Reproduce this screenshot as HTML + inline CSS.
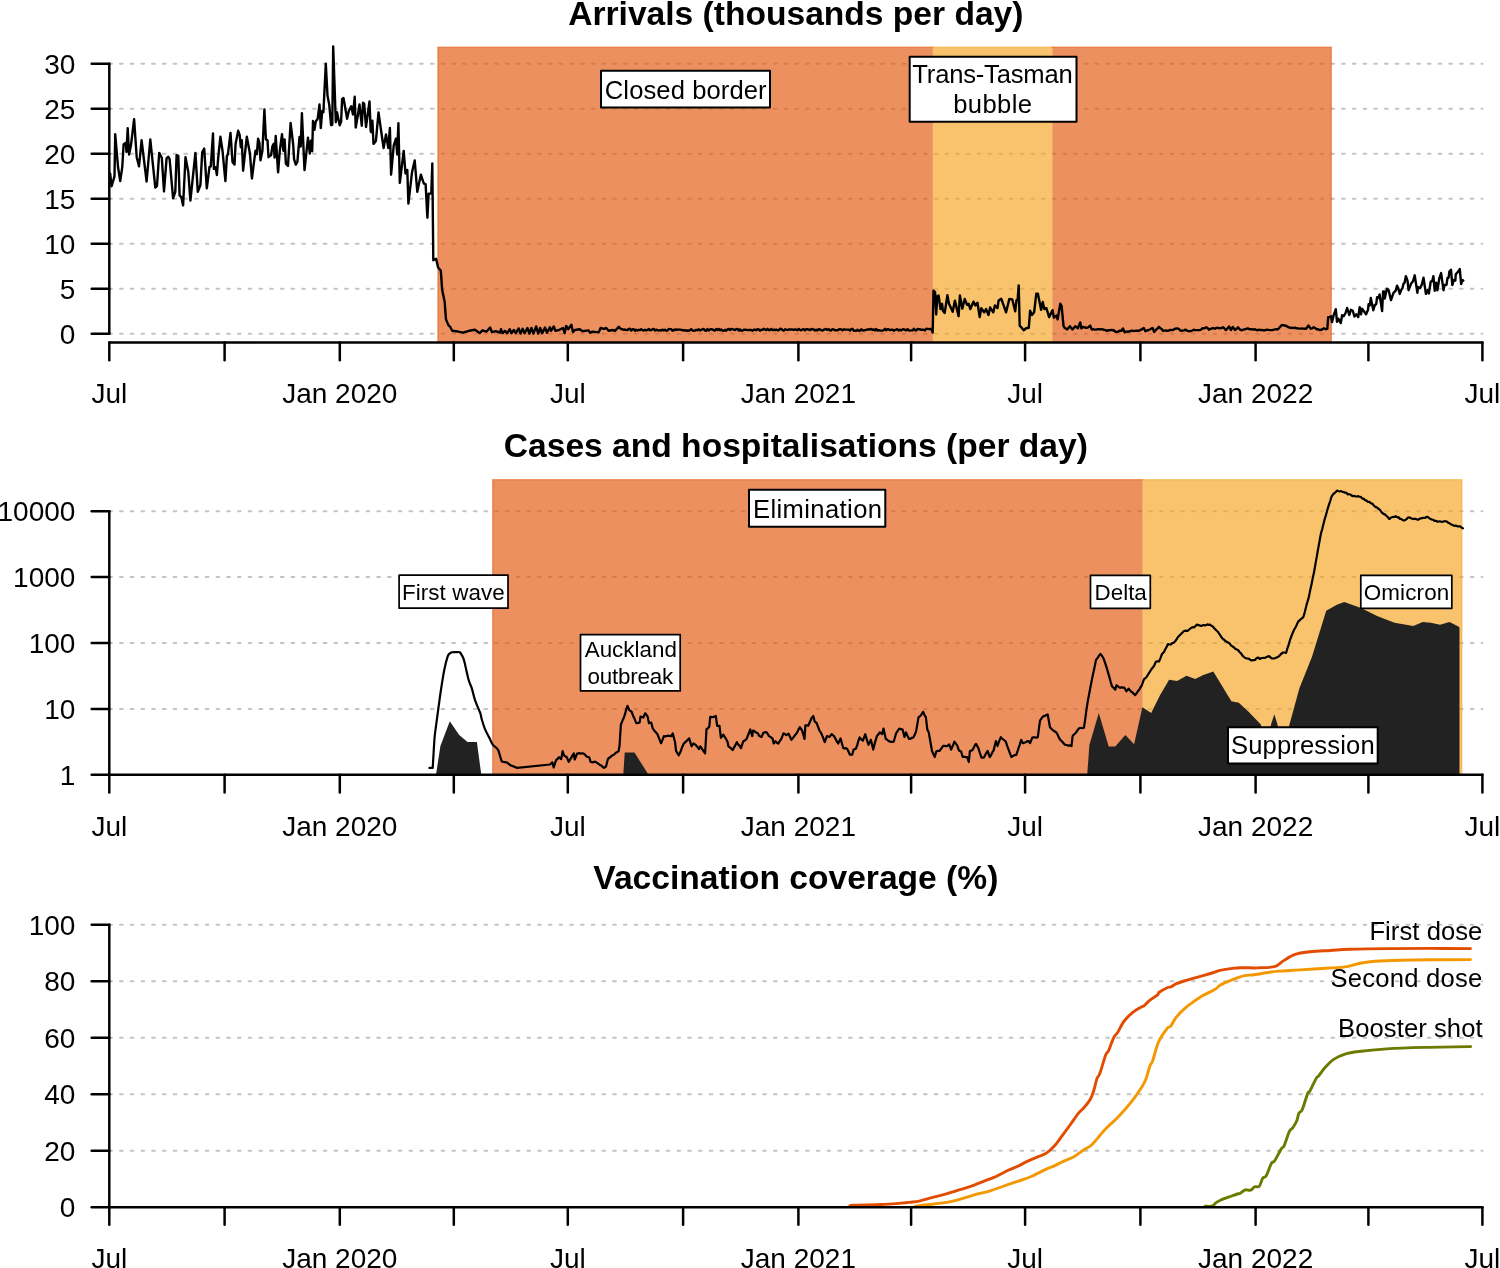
<!DOCTYPE html><html><head><meta charset="utf-8"><style>html,body{margin:0;padding:0;background:#fff;}svg{display:block;will-change:transform}</style></head><body>
<svg width="1500" height="1268" viewBox="0 0 1500 1268">
<rect width="1500" height="1268" fill="#fff"/>
<g stroke="#c4c4c4" stroke-width="2" stroke-dasharray="2.68 8.04" stroke-linecap="round" fill="none">
<line x1="109.3" y1="333.7" x2="1482.4" y2="333.7"/>
<line x1="109.3" y1="288.7" x2="1482.4" y2="288.7"/>
<line x1="109.3" y1="243.7" x2="1482.4" y2="243.7"/>
<line x1="109.3" y1="198.7" x2="1482.4" y2="198.7"/>
<line x1="109.3" y1="153.7" x2="1482.4" y2="153.7"/>
<line x1="109.3" y1="108.7" x2="1482.4" y2="108.7"/>
<line x1="109.3" y1="63.7" x2="1482.4" y2="63.7"/>
<line x1="109.3" y1="708.9" x2="1482.4" y2="708.9"/>
<line x1="109.3" y1="643" x2="1482.4" y2="643"/>
<line x1="109.3" y1="577.1" x2="1482.4" y2="577.1"/>
<line x1="109.3" y1="511.2" x2="1482.4" y2="511.2"/>
<line x1="109.3" y1="1150.7" x2="1482.4" y2="1150.7"/>
<line x1="109.3" y1="1094.2" x2="1482.4" y2="1094.2"/>
<line x1="109.3" y1="1037.7" x2="1482.4" y2="1037.7"/>
<line x1="109.3" y1="981.2" x2="1482.4" y2="981.2"/>
<line x1="109.3" y1="924.7" x2="1482.4" y2="924.7"/>
</g>
<rect x="437.9" y="47.1" width="495" height="295.5" fill="rgb(226,84,10)" fill-opacity="0.65"/>
<path d="M437.9,342.6 L437.9,47.1 L932.9,47.1" fill="none" stroke="rgb(226,84,10)" stroke-opacity="0.5" stroke-width="1.4" stroke-linecap="square" stroke-linejoin="miter"/>
<rect x="932.9" y="47.1" width="119.4" height="295.5" fill="rgb(244,163,29)" fill-opacity="0.65"/>
<path d="M932.9,47.1 L1052.3,47.1" fill="none" stroke="rgb(244,163,29)" stroke-opacity="0.5" stroke-width="1.4" stroke-linecap="square" stroke-linejoin="miter"/>
<rect x="1052.3" y="47.1" width="279" height="295.5" fill="rgb(226,84,10)" fill-opacity="0.65"/>
<path d="M1052.3,47.1 L1331.3,47.1 L1331.3,342.6" fill="none" stroke="rgb(226,84,10)" stroke-opacity="0.5" stroke-width="1.4" stroke-linecap="square" stroke-linejoin="miter"/>
<rect x="492.7" y="479.6" width="650" height="295.2" fill="rgb(226,84,10)" fill-opacity="0.65"/>
<path d="M492.7,774.8 L492.7,479.6 L1142.7,479.6" fill="none" stroke="rgb(226,84,10)" stroke-opacity="0.5" stroke-width="1.4" stroke-linecap="square" stroke-linejoin="miter"/>
<rect x="1142.7" y="479.6" width="319.2" height="295.2" fill="rgb(244,163,29)" fill-opacity="0.65"/>
<path d="M1142.7,479.6 L1461.9,479.6 L1461.9,774.8" fill="none" stroke="rgb(244,163,29)" stroke-opacity="0.5" stroke-width="1.4" stroke-linecap="square" stroke-linejoin="miter"/>
<polyline fill="none" stroke="#000" stroke-width="2.4" stroke-linejoin="round" stroke-linecap="round" points="110.2,173.7 111.5,186.3 114.5,176.3 115.2,134.3 118,166.8 120.2,181.1 122.3,166.8 123.6,144.2 125.8,142.9 126.5,152 127.7,128.2 129.1,154.6 131,145.1 134.1,119.1 136.7,157.2 139,166.3 141.6,140.3 146.6,181.5 150.3,139.5 155.3,187.6 157,185.9 159.2,152.9 161.8,157.7 164,191.5 166.6,158.1 168.3,156.8 169.6,159 173.1,198.4 175.3,191.9 176.6,155.1 178.3,155.9 179.6,195.4 181.3,197.1 183.1,205.4 185.5,157.2 188.3,172 190.4,200.6 195.4,152.9 197.8,191.9 200.4,185 202.2,152.4 204.2,148.5 206.8,188.4 209.5,166.8 210.8,166.3 213,133.4 213.9,168.9 215.6,167.2 216.9,175 218.2,157.6 220.4,136.8 222.5,150.7 225.4,181.1 226.9,155.9 227.9,154.6 230.5,132.9 232.5,162 234.5,164.6 235.6,143.8 238.2,130.8 239.7,135.1 240.8,147.2 241.8,140.3 243.1,170.7 246.8,136.8 249.9,153.3 251.9,178.5 255.5,150.7 256.8,154.2 258.1,138.6 259.4,142.9 260.5,160.3 262.4,150.7 264.4,109.5 265.9,139.4 267.5,140.3 268.5,157.2 271.1,155 272.4,146.4 273.7,143.8 274.6,157.6 275.7,136 278.1,172.4 279.8,150.7 282,134.2 283.3,150.7 284.6,139.4 285.9,163.7 288,165.9 290.6,123 293.2,144.6 294.1,159.4 295.8,164.6 297.4,161.8 299.5,137 300.7,146.5 301.9,113.3 304.5,170.1 308,137.6 309.8,153.6 311,140.6 312.2,151.2 313,121 314.5,129.9 315.7,121.6 317.7,118.7 319.5,104.5 320.8,128.1 322.2,111 323.4,112.2 325.8,63.7 327.5,95.6 329.3,105.1 331.1,125.2 332.3,124.6 333.2,46.5 335.8,122.2 337,112.2 339.7,125.2 341.1,121.6 342.1,99.2 343.5,98 347.1,118.7 348.8,111 351.2,106.2 353,114.5 354.7,96.8 355.7,127.5 357.7,116.3 359.5,104.5 361.8,125.8 363,102.7 364.2,103.9 366,127 369.5,101.5 370.7,131.1 371.2,132.1 372.4,120.8 373.5,143.9 375.9,140.9 378.5,112.5 383.6,148 386,134.4 388.3,148 389.9,127.9 391.1,174.6 393.7,145.7 396,138.6 397.2,154.5 398.4,123.2 399.8,182.9 403.7,151 405.5,173.5 407.3,169.9 408.4,203.6 412,172.3 414.7,160.4 417.3,191.8 420.9,174.6 423.8,183.5 425.6,184.1 427.4,217.8 428.6,193.6 431.3,193.6 432.3,163.4 433.3,260.2 436.1,258.8 438,267.3 440.8,270.7 442.2,290.1 444.6,301.4 446,319.4 448.4,325.1 450.3,327 452.2,330.8 456,331.2 462.6,332.7 469.2,330.8 474.9,329.8 479.6,333.1 482.5,330.3 486.3,331.7 490.1,327.5 492,332.2 495.7,331.2 500,332.7 501,329.2 502.6,333.2 505,330.8 507,333.2 509.8,329.2 511.4,333.2 513.8,330 515.8,333.2 518.6,328.4 520.6,333.6 522.6,328.8 524.6,333.2 527.4,328 529.4,333.6 531.4,328 533.4,333.6 536.2,326.4 538.2,333.6 540.2,328 542.2,333.2 545,327.6 547,332.8 549.8,327.2 551,330.8 553.8,326.4 555.4,330.8 559,330 563,328 564.6,333.2 566.2,326 568.2,329.2 571.4,324.8 573,332 575,330 579.8,329.2 582.2,331.2 588.6,330.4 590.2,332.8 592.6,331.6 598.6,332.4 600.6,328 603.8,328.8 606.2,328 608.6,330.8 612.6,330 615,330.8 618.8,326.8 621,329 622.5,329.3 623.8,329.9 625,329.5 626.2,330 627.5,330.1 628.8,328.9 630,328.8 631.2,330.5 632.5,329.3 633.8,329.3 635,330.8 636.2,329.7 637.5,330.5 638.8,329.8 640,330.1 641.2,329.1 642.5,330.1 643.8,330.5 645,329.8 646.2,330.3 647.5,330.1 648.8,328.9 650,330.3 651.2,330 652.5,329.4 653.8,328.9 655,330.5 656.2,329.7 657.5,330.2 658.8,330.6 660,330.2 661.2,330.6 662.5,329.6 663.8,330.4 665,329.7 666.2,330.7 667.5,330.6 668.8,329 670,329.1 671.2,329.2 672.5,330.7 673.8,329.7 675,330.1 676.2,329.4 677.5,329.8 678.8,329.6 680,329.5 681.2,330 682.5,330 683.8,330.6 685,330.2 686.2,330.7 687.5,330.5 688.8,330.8 690,330.1 691.2,329.1 692.5,330.5 693.8,330.7 695,330.6 696.2,329.9 697.5,330.2 698.8,329.2 700,330.5 701.2,329.9 702.5,329.4 703.8,328.9 705,330.5 706.2,330.8 707.5,329 708.8,330.4 710,329.6 711.2,329.1 712.5,329.4 713.8,330.3 715,330.5 716.2,328.9 717.5,330 718.8,328.9 720,330.2 721.2,329.5 722.5,330.6 723.8,330.8 725,329.8 726.2,330.8 727.5,329.4 728.8,329 730,330 731.2,328.9 732.5,329.2 733.8,329.6 735,330 736.2,329.1 737.5,328.9 738.8,330.5 740,329.4 741.2,330.7 742.5,330.6 743.8,329.6 745,329.7 746.2,329.8 747.5,330.1 748.8,330 750,329.9 751.2,330 752.5,330.7 753.8,329.8 755,329.7 756.2,330.2 757.5,329.3 758.8,329.4 760,330.8 761.2,329.8 762.5,329.9 763.8,328.8 765,329.6 766.2,330 767.5,328.8 768.8,330 770,330.1 771.2,328.9 772.5,330.1 773.8,329.7 775,330.2 776.2,329.5 777.5,330.2 778.8,330.3 780,328.8 781.2,328.9 782.5,330.2 783.8,330.7 785,329.3 786.2,329.7 787.5,330 788.8,329.4 790,329.5 791.2,329.4 792.5,329.5 793.8,330 795,329.4 796.2,329.6 797.5,330.3 798.8,328.9 800,329.9 801.2,330.3 802.5,329.4 803.8,329.2 805,330.4 806.2,329.3 807.5,329.2 808.8,329.7 810,330.2 811.2,329 812.5,329.4 813.8,329.5 815,330.5 816.2,329.7 817.5,330.5 818.8,329.1 820,329.5 821.2,330.1 822.5,330.6 823.8,329.7 825,329.3 826.2,329 827.5,329.9 828.8,329.2 830,330.4 831.2,330.5 832.5,329.2 833.8,329.4 835,330.4 836.2,330.1 837.5,330.4 838.8,329.5 840,329.1 841.2,329.4 842.5,330.4 843.8,329.3 845,329.5 846.2,329.6 847.5,329.6 848.8,329.6 850,330.6 851.2,329.1 852.5,328.8 853.8,330.7 855,330.6 856.2,330.8 857.5,329.7 858.8,330.7 860,330.7 861.2,329.2 862.5,330.3 863.8,330.5 865,330.1 866.2,329.8 867.5,329.4 868.8,329.5 870,329.3 871.2,328.9 872.5,330 873.8,329.4 875,330.4 876.2,328.9 877.5,330.6 878.8,330.2 880,330.6 881.2,330.6 882.5,330.6 883.8,330 885,328.8 886.2,330.3 887.5,329.1 888.8,329.4 890,330.1 891.2,329.8 892.5,329.6 893.8,330.7 895,330 896.2,329.5 897.5,329.3 898.8,330.5 900,329.8 901.2,330.4 902.5,329.5 903.8,329.2 905,329.9 906.2,330.4 907.5,329.1 908.8,330.4 910,330.6 911.2,330.4 912.5,330.4 913.8,328.8 915,330.1 916.2,330.5 917.5,328.9 918.8,329.3 920,329.3 921.2,329.9 922.5,329.6 923.8,329.7 925,330.4 926.2,328.8 927.5,328.9 928.8,329.1 930,329 931.2,328.9 932.7,332.6 933.5,290.5 935.1,292.1 936.2,314.5 937.3,296.3 938.6,295.5 940.5,309.1 942.1,303.8 942.9,310.7 944.7,312.9 947.4,295.3 949,303.8 952.7,311.8 954.9,300.6 958.6,316.1 959.9,295.5 962.3,308.6 964.7,299 967.1,304.9 968.7,303.8 970.3,309.1 973.5,301.7 975.4,305.4 977.5,302.7 979.7,317.1 981.3,308.3 984.2,312.3 986.1,309.1 988.5,315 990.1,307.5 993.3,312.3 994.9,305.4 997.5,308.1 998.6,300.6 1001.3,298.8 1006.1,312.3 1009.3,299 1012.3,299.5 1015.2,311.3 1016.5,300.1 1017.6,300.6 1018.7,285.4 1019.7,325.7 1021.3,327.3 1023.7,330.2 1026.1,328.3 1028.8,327.8 1030.1,310.7 1032,315 1034.1,312.3 1036.3,293.7 1037.9,293.7 1041.1,309.7 1042.7,301.9 1044.3,309.1 1046.4,308.1 1049.1,317.1 1052.5,310.2 1053.9,317.7 1056.5,315.5 1057.6,319.3 1060.3,303.8 1061.6,305.9 1063.5,325.7 1064.5,327.8 1067.2,329.4 1069.9,326.2 1072.5,329.4 1075.2,326.2 1077.9,328.3 1080.2,322.4 1081.4,328.4 1083,326.8 1084.6,327.5 1086.2,327.7 1087.8,327.6 1090.2,325.6 1091.8,329.6 1093.1,329.2 1094.5,329.6 1095.8,329.6 1097.1,329.3 1098.4,329.3 1099.6,329.2 1100.9,329.4 1102.2,329.2 1103.8,329.8 1105.4,330.1 1107,330.8 1108.3,330.3 1109.6,330.3 1110.8,329.9 1112.1,330.2 1113.4,330 1115.8,332 1117.2,331.9 1118.6,331.3 1120,330.7 1121.4,330.8 1123,328.4 1124.6,332.4 1125.9,331.8 1127.2,331.6 1128.4,331.5 1129.7,331.4 1131,330.8 1132.3,330.7 1133.7,331.1 1135,330.9 1136.3,330.7 1137.7,330.7 1139,330.8 1140.6,329.9 1142.2,329.1 1143.8,328 1145.4,331.2 1147,330.5 1148.6,330 1149.9,329.5 1151.3,328.6 1152.6,328 1154.2,332 1155.8,330 1157.4,328.6 1159,326.8 1160.3,328.3 1161.7,329 1163,330.8 1164.3,330.6 1165.7,330.5 1167,330.8 1168.3,330.7 1169.7,330 1171,330 1172.3,330.1 1173.6,329.7 1174.8,328.8 1176.1,328.7 1177.4,328.4 1178.7,328.8 1180.1,330.3 1181.4,330.8 1182.7,330.6 1184.1,330.4 1185.4,329.6 1187,330.7 1188.6,331.2 1189.9,331.1 1191.2,331 1192.4,330.5 1193.7,329.8 1195,330 1199.7,330.1 1201,329.7 1202.3,328.5 1203.6,328.1 1204.9,328.2 1206.2,327.3 1207.6,328 1209,329.7 1210.6,328.8 1212.1,328.3 1213.7,328.3 1215.1,328.7 1216.5,327.9 1217.9,327.8 1219.3,328.3 1221.1,328.1 1223,327.3 1224.4,328.4 1225.8,330.1 1227.4,328.6 1229.1,326.4 1230.9,330.1 1232.8,326.9 1235.1,330.1 1236.5,328.9 1238,327.3 1239.4,329.1 1240.8,330.1 1242.2,330.2 1243.6,329.5 1245,329.4 1246.4,328.7 1247.9,328.4 1249.5,329.3 1251,329.2 1252.4,329.3 1253.7,329.7 1255,329.2 1256.4,330 1257.7,330.3 1259,329.6 1260.4,330.1 1261.7,330 1263,330.2 1264.4,330.5 1265.7,329.9 1267,329.8 1268.4,329.9 1269.7,330.1 1271.1,330.1 1272.5,330.1 1273.9,329.6 1275.3,329.4 1276.7,329.3 1278.1,329.2 1280,327 1281.8,325 1283.2,325.2 1284.6,325.5 1286.5,326 1288.4,327.3 1289.7,327.5 1291,328.1 1292.4,327.7 1293.7,328.1 1295,327.7 1296.4,328.3 1297.7,328.3 1299.1,328.6 1300.5,328.6 1301.9,328.5 1303.3,328.6 1304.7,328.8 1306.1,328.7 1308.4,325.5 1310.8,328.7 1312.2,328.4 1313.6,327.3 1315,327.9 1316.4,329.2 1318.2,329.3 1320.1,330.1 1322,329.5 1323.9,328.3 1325.7,329.2 1327.3,328.8 1328.2,317.1 1330.1,317.1 1331,316.2 1332,322.1 1333.6,315.5 1335.8,309.2 1337,321.8 1338.3,318.7 1340.8,323.1 1342.1,315.2 1343.7,316.2 1345.6,313 1347.1,308 1349.3,314.9 1350.9,309.8 1352.8,310.8 1354.4,316.5 1356.3,314.3 1358.2,317.1 1359.7,307.3 1361,314.3 1362,308.6 1366.1,314.3 1368,309.8 1368.6,304.2 1369.8,305.4 1370.8,297.9 1373.3,310.2 1374.9,304.8 1376.2,304.2 1377.1,297.2 1378.7,297.9 1379.6,294.4 1382.1,311.1 1383.1,291.5 1384,291.5 1384.7,298.5 1386.9,288.7 1388.5,289.7 1391,300.1 1393.5,292.8 1395.7,290.6 1397.1,285.7 1398.2,288.1 1399.8,293.9 1401.1,290.2 1402.5,288.1 1403.5,283.8 1404.6,282.7 1405.9,276.1 1407.5,280.6 1408.6,290.2 1411,283.8 1413.1,281.1 1414.7,275.3 1417.4,292.9 1417.9,287 1420.1,288.1 1421.7,284.9 1423.5,277.7 1425.9,293.9 1427.5,290.2 1428.9,293.4 1430.7,281.7 1432.3,281.1 1433.4,276.1 1434.7,290.7 1436.1,282.7 1437.4,290.2 1439.3,278.5 1441.1,273.1 1443.5,290.2 1444.6,284.9 1446.5,284.9 1447.5,277.9 1448.6,277.9 1449.4,271.5 1451,269.7 1452.3,285.1 1453.7,280.1 1455.3,280.6 1455.8,274.2 1457.7,272.1 1459.8,269.1 1461.1,284.1 1462.7,280.1 1463.3,280.6"/>
<polygon fill="#222" stroke="none" points="436,774.8 440.4,746 449.8,721.2 459.2,735 467.5,742.1 476.9,742.1 481.3,774.8"/>
<polygon fill="#222" stroke="none" points="623.3,774.8 624.7,752.5 634.5,752.5 648.5,774.8"/>
<polygon fill="#222" stroke="none" points="1087.2,774.8 1089.4,744.9 1098.8,712.9 1108.7,746.5 1115.3,746.5 1125.3,735 1134.1,744.3 1142.4,707.3 1151.2,712.9 1160,695.2 1169.1,679.7 1177.1,681.1 1186.5,675.7 1195.2,679 1203.3,675 1213.3,671.4 1231.4,701.2 1238.8,702.8 1248.8,711.9 1260.9,724.6 1264,740 1268,740 1271,724.6 1274.3,714.3 1277.5,724.6 1280,740 1287,740 1289.2,725.4 1299.4,688.3 1312,656.8 1326.2,610.7 1336.9,604.7 1344.3,602 1361,608 1377.1,616.1 1394.5,622.8 1413.3,626.1 1422.7,622.1 1430.7,622.8 1440.1,624.8 1449.5,622.1 1458.9,626.8 1459.5,627.6 1459.5,774.8"/>
<path fill="none" stroke="#000" stroke-width="2.2" stroke-linejoin="round" stroke-linecap="round" d="M429.4,767.9 L432.7,767.9 L434.4,739.4 C435,731.7 435.5,730 436.6,721.7 C437.7,713.4 439.7,698.4 441,689.7 C442.3,681.1 443.2,675.3 444.3,669.8 C445.4,664.3 446.7,659.3 447.6,656.6 C448.5,653.9 448.9,654.3 449.6,653.6 C450.3,652.9 450.9,652.5 452,652.3 C453.1,652 454.7,652.1 456,652.1 C457.3,652.1 458.7,651.7 459.7,652.3 C460.7,652.9 461.2,654.1 462,655.6 C462.8,657.1 463.1,657 464.2,661 C465.3,665 467.3,675.1 468.6,679.7 C469.9,684.3 470.8,685.1 471.9,688.6 C473,692.1 473.8,696.7 475.2,700.7 C476.6,704.8 479.1,709.8 480.2,712.9 C481.3,716 481,716.8 481.8,719.5 C482.6,722.2 483.8,726.3 485.1,729.4 C486.4,732.5 488.3,735.7 489.6,738.3 C490.9,740.9 491.4,742.9 492.9,744.9 C494.4,746.9 496.9,747.6 498.4,750.4 L501.7,761.5 L507.2,762.6 L510.5,765.3 L517.2,767.9 L550,764.5 L552.3,762.3 L553.7,767.5 L556.1,760 L557.5,759 L558.9,757.2 L561.2,759.1 L562.6,751.1 L564,755.3 L565.4,756.3 L566.8,757.2 L568.7,761.9 L570,759.7 L571.2,757.9 L572.5,755.3 L573.8,753.5 L574.7,759.5 L577.1,753.5 L578.4,753.3 L579.7,753.2 L581,753.6 L582.3,753.3 L583.6,753.5 L585.2,754.9 L586.9,756.7 L589.2,757.2 L590.6,761.9 L591.9,762.1 L593.2,762.3 L594.4,761.7 L595.7,761.9 L597.1,763 L598.5,763.7 L599.9,765 L601.3,765.6 L602.7,766.8 L604.1,767.9 L606,766.5 L607.9,759.1 L609.2,757.9 L610.6,756.8 L611.9,755.7 L613.2,755.1 L614.6,754 L615.9,752.8 L617.3,752 L618.6,751.1 L619.5,746 L620.9,724.5 L622.3,721.1 L623.7,718 L625,714.2 L626.2,709.6 L627.5,705.9 L629.3,710.1 L631.7,711.9 L633.2,716.1 L634.8,719.3 L636.3,723.1 L638,723 L639.6,722.7 L640.5,716.6 L641.9,717 L643.3,717.5 L645.2,713.3 L647.5,716.1 L648.9,723.1 L651.3,722.7 L652.7,728.3 L654.2,730.5 L655.8,732.3 L657.3,733.9 L658.6,737.1 L659.8,740.1 L661.1,743.2 L662.5,739.9 L663.9,736.2 L665.8,736.3 L667.6,735.7 L669.5,735.9 L671.3,736.2 L672.7,733.4 L675.1,742.3 L676,750.7 L677.4,753.2 L678.8,755.3 L680.4,752 L681.9,747.8 L683.5,744.1 L685.4,742 L687.2,740.4 L689.2,738.4 L691.5,746.3 L693.4,743.5 L695.7,744.9 L697.4,746.8 L699,749.1 L700.4,746.3 L702,748.8 L703.5,751.1 L705.1,753.3 L706.5,729.1 L707.9,728.3 L709.3,726.7 L710.2,716.9 L712,717.2 L713.9,716.9 L715.8,716 L717.2,725.8 L719.5,725.8 L720.9,737.9 L723.3,734.7 L724.7,736.8 L726.1,739.1 L727.5,741.7 L728.4,746.3 L729.8,747.3 L731.2,748.6 L732.6,750.1 L734,747.6 L735.4,745.1 L736.8,742.1 L738.2,744.5 L739.6,745.9 L741,748.2 L743.3,741.2 L745,740.4 L746.6,738.9 L748.5,734 L750.3,729.5 L752.2,736.1 L753.1,730.5 L754.7,731.4 L756.2,732.6 L757.8,733.3 L759.2,736.1 L761.5,737 L763.4,732.8 L765,732.2 L766.7,732.3 L769,736.1 L770.9,737.1 L772.7,738.9 L773.7,743.5 L775.5,741.2 L776.9,742.7 L778.3,743.5 L779.7,741.2 L781.1,739.3 L783.5,733.3 L784.9,734.1 L786.3,735.1 L788.6,733.7 L790,736.8 L791.4,739.8 L793.2,737.6 L795.1,735.1 L797,732.8 L798.4,729.6 L799.8,727.2 L802.1,730.5 L804.5,738.9 L805.4,725.3 L806.8,725.4 L808.2,725.8 L809.9,722 L811.5,718.3 L813.3,716 L814.7,721.6 L816.6,723 L818,726.7 L819.4,730.5 L821.3,733.3 L823,737.4 L824.7,742.1 L827,736.1 L829.3,737 L831.7,734.2 L834,736.1 L835.4,738.6 L836.8,741.4 L838.2,743.5 L840.5,738.4 L841.9,743.2 L843.3,748.2 L844.6,748.4 L845.8,748.2 L847.1,748.7 L848.5,751.5 L849.9,754.7 L852.2,754.7 L853.6,749.6 L855.9,748.7 L857.2,745.1 L858.4,740.9 L859.7,737.5 L861.3,739.4 L862.9,740.7 L865.3,734.2 L866.9,739.9 L868.5,744.9 L870.9,739.8 L873.2,749.6 L875,742.5 L876.9,736.1 L878.3,734.6 L879.7,732.3 L882.1,734.2 L883.5,728.6 L885.8,738.9 L887.2,739.7 L888.6,741 L890,741.7 L891.9,741.9 L893.7,741.7 L896.1,733.3 L897.7,730.8 L899.3,728.6 L901,729.2 L902.6,729.5 L904.5,737 L905.9,732.3 L907.5,735.7 L909.1,738.9 L910.5,738.7 L911.9,737.8 L913.3,737.5 L914.7,734.7 L916.1,731.4 L918.5,717.4 L920.8,715.5 L923.1,711.8 L924.5,715 L925.9,717.4 L927.3,729.5 L928.7,732.3 L930.4,741.8 L932,751 L933.4,754.1 L934.8,757.1 L936.2,751.5 L937.9,750.9 L939.5,751 L941.4,748.4 L943.2,745.9 L944.6,745.8 L946,746.1 L947.4,745.9 L949.3,744.5 L951.1,749.6 L952.8,745.8 L954.4,741.7 L955.8,743.6 L957.2,745.4 L958.9,750.4 L961.1,751.5 L962.7,757 L964.2,756.7 L965.6,757.1 L967.1,757 L968.8,762 L969.9,751 L972.1,750.4 L973.4,748.3 L974.7,745.7 L976,743.8 L978.2,747.7 L979.9,753 L981.5,757.6 L983.7,757.6 L985,755.5 L986.3,752.9 L987.6,751 L989.8,757 L991.1,755.2 L992.3,752.3 L993.6,750.4 L995.9,741 L997.5,746 L999.1,741.4 L1000.8,737.2 L1002,738.5 L1003.3,739.5 L1004.5,740.5 L1005.8,741.6 L1007.1,745.6 L1008.5,749.3 L1009.9,753.1 L1011.3,757 L1012.5,756.3 L1013.8,755.6 L1015,755 L1016.3,754.8 L1017.9,750 L1019.6,745.1 L1021.2,739.9 L1022.9,743.2 L1024.3,742.7 L1025.7,742.3 L1027,741.4 L1028.4,741 L1030.1,743.2 L1032.3,737.7 L1033.7,737.4 L1035,737.3 L1036.4,737.7 L1037.8,737.2 L1040,720.6 L1042.2,717.3 L1043.6,716.2 L1045,715.9 L1046.3,715 L1047.7,714.5 L1050,727.2 L1051.7,729.1 L1053.3,730.5 L1054.9,731.5 L1056.6,732.7 L1058.2,735.9 L1059.9,739.4 L1061.3,740.7 L1062.7,742.2 L1064,743.8 L1065.4,744.9 L1066.9,745 L1068.5,745.8 L1070,745.4 L1071.5,746 L1072.6,736.1 L1074.2,734.2 L1075.9,732.7 L1077.6,730.1 L1079.2,728.3 L1080.8,727.8 L1082.3,728.2 L1083.9,727.8 L1085.2,719.3 L1086.4,710.2 L1087.7,701.8 L1089.2,693.8 L1090.6,686.3 L1092.1,678.6 L1093.4,672.6 L1094.7,666.4 L1096,659.9 L1097.5,658.1 L1098.9,655.9 L1100.4,653.8 L1102.1,656 L1103.7,658.8 L1105,662.7 L1106.3,666.6 L1107.6,670.9 L1109.1,676.1 L1110.5,681.3 L1112,686.4 L1113.7,687.8 L1115.3,689.7 L1116.4,685.3 L1117.8,686.2 L1119.2,687.5 L1120.5,687.8 L1121.7,687.1 L1123,687.8 L1124.2,687.5 L1126.4,691.3 L1128.6,688.6 L1129.9,690.3 L1131.2,691.6 L1132.6,692.5 L1133.9,693.9 L1135.2,695.2 L1136.5,693.3 L1137.8,691.4 L1139.2,689.7 L1140.5,687.4 L1141.8,685.3 L1144,679.2 L1146.2,677.5 L1151.8,668.7 L1154,666 L1156,661.5 L1157.5,661.3 L1159,661.5 L1160.5,658.1 L1162,654 L1164,652 L1165.3,649.3 L1166.7,646.8 L1168,644 L1169.5,644.5 L1171,644.5 L1172.3,643 L1173.7,642.8 L1175,641.5 L1176.5,639.4 L1178,637 L1179.5,635.5 L1181,634 L1182.5,632.5 L1184,631 L1185.8,630.7 L1187.5,631 L1189.2,629.5 L1191,628 L1192.5,627.2 L1194,627.5 L1195.5,626 L1197,624.5 L1198.3,625.2 L1199.7,625.4 L1201,626 L1202.2,625.6 L1203.5,625 L1204.8,625.4 L1206.1,625.2 L1207.4,624.3 L1208.7,624.9 L1210,624.5 L1211.3,625.8 L1212.7,626.3 L1214,628 L1215.2,629.2 L1216.5,630.5 L1217.8,631.7 L1219,633.5 L1220.3,635.4 L1221.7,637.6 L1223,639 L1224.2,639.7 L1225.5,641.2 L1226.8,641.8 L1228,642.5 L1229.5,643.3 L1231,645.4 L1232.5,646.4 L1234,647.5 L1235.3,648.8 L1236.7,649.4 L1238,650 L1239.5,652 L1241,653.3 L1242.5,655.6 L1244,657 L1245.3,658 L1246.7,658.4 L1248,658.5 L1249.3,659.1 L1250.7,660.1 L1252,660.5 L1253.5,660.2 L1255,660 L1256.5,658.3 L1258,657.5 L1260,659 L1261.2,658.2 L1262.5,658 L1263.8,657.9 L1265,658 L1266.3,657 L1267.7,656.7 L1269,656 L1270.5,657.5 L1272,658.5 L1274,658.5 L1275.3,658 L1276.7,657.4 L1278,657 L1279.5,655.7 L1281,654 L1283,652.5 L1284.5,652.5 L1286,653 C1286.5,652.3 1286.9,650 1287.3,648.6 C1287.8,647.2 1288.2,646.1 1288.7,644.6 C1289.1,643.2 1289.6,641.3 1290,640 C1290.4,638.7 1290.9,637.7 1291.3,636.6 C1291.8,635.4 1292.2,634.1 1292.7,633 C1293.1,631.9 1293.6,630.9 1294,630 C1294.4,629.1 1294.9,628.6 1295.3,627.8 C1295.8,626.9 1296.2,625.9 1296.7,624.9 C1297.1,623.9 1297.6,622.7 1298,622 C1298.4,621.3 1298.9,621 1299.3,620.6 C1299.8,620.1 1300.2,619.7 1300.7,619.3 C1301.2,618.9 1301.6,618.5 1302.1,618.1 C1302.5,617.7 1303,617.8 1303.4,616.8 C1303.9,615.8 1304.3,613.7 1304.8,612 C1305.2,610.4 1305.6,608.5 1306.1,606.7 C1306.5,605 1307,603.2 1307.5,601.6 C1307.9,600.1 1308.4,599.1 1308.8,597.3 C1309.2,595.5 1309.7,592.7 1310.1,590.6 C1310.6,588.6 1311,587 1311.4,584.9 C1311.9,582.8 1312.3,580 1312.8,577.9 C1313.2,575.7 1313.7,574.2 1314.1,571.9 C1314.5,569.6 1315,566.9 1315.4,564.3 C1315.9,561.8 1316.3,559.1 1316.8,556.5 C1317.2,554 1317.7,551.5 1318.1,549 C1318.6,546.5 1319,543.9 1319.5,541.5 C1319.9,539 1320.4,536.3 1320.8,534.3 C1321.2,532.3 1321.7,530.9 1322.2,529.2 C1322.6,527.4 1323,525.6 1323.5,523.9 C1324,522.1 1324.4,520.3 1324.8,518.7 C1325.3,517.1 1325.8,515.7 1326.2,514.2 C1326.6,512.7 1327.1,510.9 1327.5,509.4 C1328,507.9 1328.4,506.5 1328.8,505.1 C1329.3,503.8 1329.7,502.5 1330.2,501.1 C1330.6,499.8 1331.1,497.9 1331.5,496.8 C1331.9,495.7 1332.4,495.4 1332.8,494.8 C1333.3,494.2 1333.8,493.7 1334.2,493.3 C1334.7,492.8 1335.1,492.7 1335.6,492.2 C1336,491.8 1336.5,491 1336.9,490.8 C1337.3,490.6 1337.8,490.8 1338.2,491 C1338.7,491.1 1339.1,491.5 1339.6,491.5 C1340,491.6 1340.5,491.1 1340.9,491.1 C1341.4,491.1 1341.8,491.6 1342.3,491.7 C1342.7,491.9 1343.2,492 1343.6,492.1 C1344,492.2 1344.5,492.5 1344.9,492.6 C1345.4,492.7 1345.8,492.4 1346.3,492.7 C1346.7,493 1347.2,494.1 1347.6,494.3 C1348.1,494.6 1348.5,494 1349,494.1 C1349.4,494.1 1349.9,494.3 1350.3,494.5 C1350.8,494.7 1351.2,495.2 1351.7,495.5 C1352.1,495.8 1352.6,496 1353,496.1 C1353.4,496.2 1353.9,495.8 1354.3,495.9 C1354.8,495.9 1355.2,496.4 1355.7,496.5 C1356.1,496.6 1356.6,496.4 1357,496.4 C1357.5,496.3 1357.9,496.2 1358.4,496.2 C1358.8,496.3 1359.3,496.7 1359.7,496.8 C1360.1,496.9 1360.6,496.8 1361,497.1 C1361.5,497.3 1361.9,498.3 1362.4,498.6 C1362.8,498.8 1363.3,498.5 1363.7,498.8 C1364.2,499.1 1364.6,499.8 1365.1,500.1 C1365.5,500.4 1365.9,500.2 1366.4,500.5 C1366.8,500.8 1367.3,501.6 1367.7,501.8 C1368.2,502 1368.6,501.7 1369.1,501.8 C1369.5,502 1370,502.5 1370.4,502.8 C1370.8,503.1 1371.3,503.2 1371.8,503.5 C1372.2,503.8 1372.7,504.1 1373.1,504.6 C1373.6,505 1374,505.8 1374.5,506.2 C1374.9,506.6 1375.3,506.8 1375.8,507 C1376.2,507.3 1376.7,507.4 1377.2,507.7 C1377.6,508 1378.1,508.6 1378.5,508.9 C1378.9,509.2 1379.4,509.3 1379.8,509.7 C1380.3,510.2 1380.7,511 1381.2,511.6 C1381.6,512.2 1382.1,512.8 1382.5,513.2 C1383,513.6 1383.4,513.8 1383.8,514 C1384.3,514.2 1384.7,514.3 1385.2,514.6 C1385.6,514.9 1386.1,515.5 1386.5,515.9 C1387,516.3 1387.4,516.7 1387.9,517.2 C1388.3,517.7 1388.8,518.8 1389.2,518.9 C1389.6,519 1390.1,518.3 1390.5,518 C1391,517.7 1391.4,517.5 1391.9,517.3 C1392.3,517.1 1392.8,516.9 1393.2,516.8 C1393.7,516.7 1394.1,517 1394.6,516.9 C1395,516.8 1395.5,516.1 1395.9,516.2 C1396.3,516.3 1396.8,517.2 1397.2,517.3 C1397.7,517.5 1398.1,517 1398.6,517.2 C1399,517.5 1399.5,518.5 1399.9,518.8 C1400.3,519 1400.8,518.7 1401.2,518.9 C1401.7,519.1 1402.1,519.7 1402.6,520 C1403,520.2 1403.5,520.3 1403.9,520.3 C1404.3,520.3 1404.8,520.1 1405.2,519.9 C1405.7,519.6 1406.1,519.4 1406.6,519 C1407,518.6 1407.5,517.9 1407.9,517.6 C1408.3,517.3 1408.8,517.3 1409.2,517.4 C1409.7,517.4 1410.1,517.8 1410.6,518 C1411,518.2 1411.5,518.4 1411.9,518.6 C1412.4,518.8 1412.8,519.2 1413.3,519.2 C1413.7,519.2 1414.2,518.6 1414.6,518.6 C1415.1,518.6 1415.5,518.9 1416,519.1 C1416.4,519.3 1416.9,519.5 1417.3,519.6 C1417.7,519.7 1418.2,519.8 1418.6,519.6 C1419.1,519.4 1419.5,518.6 1420,518.4 C1420.4,518.2 1420.9,518.4 1421.3,518.3 C1421.8,518.2 1422.2,518 1422.7,517.9 C1423.1,517.8 1423.6,517.9 1424,517.9 C1424.5,517.8 1424.9,517.9 1425.4,517.8 C1425.8,517.6 1426.3,517 1426.7,516.9 C1427.1,516.8 1427.6,516.9 1428,517.1 C1428.5,517.4 1428.9,518 1429.4,518.3 C1429.8,518.6 1430.3,518.7 1430.7,518.9 C1431.2,519.1 1431.6,519.5 1432.1,519.6 C1432.5,519.8 1432.9,519.7 1433.4,519.9 C1433.8,520.1 1434.3,520.7 1434.7,520.9 C1435.2,521.1 1435.6,520.7 1436.1,520.9 C1436.5,521 1437,521.5 1437.4,521.6 C1437.8,521.7 1438.3,521.6 1438.7,521.5 C1439.2,521.5 1439.6,521.2 1440.1,521.3 C1440.5,521.4 1441,521.9 1441.4,521.9 C1441.9,522 1442.3,521.7 1442.8,521.6 C1443.2,521.5 1443.7,521.4 1444.1,521.3 C1444.6,521.3 1445,521.2 1445.5,521.2 C1445.9,521.3 1446.4,521.4 1446.8,521.6 C1447.2,521.8 1447.7,522.4 1448.1,522.6 C1448.6,522.9 1449,523.1 1449.5,523.3 C1449.9,523.6 1450.4,524 1450.8,524.2 C1451.3,524.5 1451.7,524.4 1452.2,524.7 C1452.6,524.9 1453.1,525.4 1453.5,525.6 C1453.9,525.8 1454.4,525.8 1454.8,525.8 C1455.3,525.8 1455.8,525.5 1456.2,525.6 C1456.7,525.7 1457.1,526.2 1457.6,526.4 C1458,526.5 1458.5,526.3 1458.9,526.3 C1459.3,526.3 1459.8,526.2 1460.2,526.4 C1460.7,526.7 1461.1,527.3 1461.6,527.6 C1462,527.9 1462.7,528.2 1462.9,528.3"/>
<path fill="none" stroke="#e24c00" stroke-width="2.9" stroke-linejoin="round" stroke-linecap="round" d="M851,1206.3 C851.2,1206.1 847.3,1205.5 852.3,1205.2 C857.3,1204.9 872.8,1204.8 881,1204.5 C889.2,1204.2 896.5,1203.5 901.5,1203.1 C906.5,1202.7 908.1,1202.5 911.1,1202.2 C914.1,1201.9 916.3,1201.8 919.3,1201.1 C922.2,1200.4 924.9,1199.3 928.8,1198.3 C932.7,1197.3 937.9,1196.2 942.5,1194.9 C947.1,1193.7 951.7,1192.2 956.2,1190.8 C960.8,1189.4 965.2,1188.3 969.8,1186.7 C974.3,1185.1 979.4,1182.9 983.5,1181.3 C987.6,1179.7 990.3,1179 994.4,1177.2 C998.5,1175.4 1004.2,1172.1 1008.1,1170.3 C1012,1168.5 1014.5,1167.7 1017.7,1166.2 C1020.9,1164.7 1023.8,1163 1027.2,1161.4 C1030.6,1159.8 1035,1158.1 1038.2,1156.7 C1041.5,1155.3 1043.9,1154.8 1046.7,1152.9 C1049.5,1151 1052.1,1148.5 1054.8,1145.5 C1057.5,1142.5 1060.1,1138.4 1062.8,1134.8 C1065.5,1131.2 1068.1,1127.7 1070.8,1124 C1073.5,1120.3 1076.7,1115.4 1078.9,1112.6 C1081.2,1109.8 1082.4,1109.5 1084.3,1107.3 C1086.2,1105.1 1088.8,1101.9 1090.3,1099.2 C1091.8,1096.5 1092.5,1094.7 1093.6,1091.2 C1094.7,1087.7 1096,1081.3 1097,1078.4 C1098,1075.5 1098.2,1077.7 1099.7,1073.8 C1101.2,1069.9 1104.2,1058.8 1105.7,1055 C1107.2,1051.2 1107.1,1053.9 1108.4,1051 C1109.8,1048.1 1112.2,1040.6 1113.8,1037.5 C1115.4,1034.4 1116.1,1034.9 1117.8,1032.2 C1119.5,1029.5 1121.3,1024.8 1123.8,1021.5 C1126.2,1018.2 1129.8,1015 1132.5,1012.7 C1135.2,1010.4 1138,1008.9 1140,1007.7 C1142,1006.5 1142.7,1006.8 1144.3,1005.6 C1145.9,1004.4 1147.4,1002.1 1149.6,1000.3 C1151.8,998.5 1156,996.2 1157.6,994.9 C1159.2,993.6 1157.5,993.5 1159.2,992.3 C1160.9,991.1 1165.8,988.4 1167.7,987.5 C1169.7,986.6 1169.5,987.5 1170.9,986.9 C1172.3,986.3 1173.8,984.8 1176.3,983.7 C1178.8,982.6 1183.1,981.4 1185.9,980.5 C1188.7,979.6 1190.5,979.2 1193.3,978.4 C1196.1,977.6 1199.5,976.7 1202.9,975.7 C1206.3,974.7 1210.8,973.4 1213.6,972.5 C1216.4,971.6 1217.2,971 1220,970.4 C1222.8,969.8 1227.2,969 1230.7,968.6 C1234.2,968.2 1236.9,967.8 1241.3,967.7 C1245.7,967.6 1251.8,968.1 1257.3,967.9 C1262.8,967.7 1270.3,967.7 1274.4,966.7 C1278.5,965.7 1279.4,963.5 1281.9,961.9 C1284.4,960.3 1286.8,958.4 1289.3,957.1 C1291.8,955.8 1293.3,954.8 1296.8,953.9 C1300.2,953 1304.5,952.4 1310,951.8 C1315.5,951.2 1323.3,950.9 1330,950.5 C1336.7,950.1 1340,949.5 1350,949.2 C1360,948.9 1376.7,948.7 1390,948.6 C1403.3,948.5 1416.6,948.4 1430,948.4 C1443.4,948.4 1463.8,948.6 1470.5,948.6"/>
<path fill="none" stroke="#f39800" stroke-width="2.9" stroke-linejoin="round" stroke-linecap="round" d="M915,1206.3 C916.2,1206.1 918.5,1205.6 922,1205.2 C925.5,1204.8 931.2,1204.4 935.7,1203.8 C940.2,1203.2 944.8,1202.7 949.3,1201.8 C953.8,1200.9 958.4,1199.6 963,1198.3 C967.6,1197 972.2,1195.5 976.7,1194.2 C981.2,1193 985.8,1192.2 990.3,1190.8 C994.8,1189.4 999.4,1187.6 1004,1186 C1008.6,1184.4 1013.2,1182.9 1017.7,1181.3 C1022.2,1179.7 1026.7,1178.5 1031.3,1176.5 C1035.9,1174.5 1041.5,1171.4 1045.4,1169.6 C1049.3,1167.8 1051.9,1166.9 1054.8,1165.6 C1057.7,1164.3 1059.7,1163 1062.8,1161.6 C1065.9,1160.1 1069.9,1158.9 1073.5,1156.9 C1077.1,1154.9 1081.4,1151.4 1084.3,1149.5 C1087.2,1147.6 1088.8,1147.4 1091,1145.5 C1093.2,1143.6 1095.2,1140.9 1097.7,1138.1 C1100.2,1135.3 1102.6,1131.9 1105.7,1128.7 C1108.8,1125.5 1113.3,1121.8 1116.4,1118.7 C1119.5,1115.6 1121.6,1113.3 1124.5,1110 C1127.4,1106.7 1130.9,1102.6 1133.9,1098.6 C1136.9,1094.6 1140.6,1089 1142.6,1085.8 C1144.6,1082.5 1144.7,1082.4 1145.9,1079.1 C1147.1,1075.8 1148.9,1068.7 1150,1065.7 C1151.1,1062.7 1151.1,1065 1152.6,1061 C1154,1057 1156.2,1047.1 1158.7,1041.6 C1161.2,1036.1 1165.4,1030.8 1167.4,1028.2 C1169.4,1025.6 1169.2,1027.9 1170.7,1026.1 C1172.2,1024.3 1173.8,1020.4 1176.1,1017.4 C1178.4,1014.4 1181.9,1010.9 1184.8,1008.3 C1187.7,1005.7 1190.3,1004 1193.3,1001.9 C1196.3,999.8 1199.3,997.5 1202.9,995.5 C1206.5,993.5 1211.9,991.3 1214.7,989.6 C1217.5,987.9 1218.2,986.4 1220,985.3 C1221.8,984.1 1222.6,983.9 1225.3,982.7 C1228,981.6 1232.8,979.6 1236,978.4 C1239.2,977.2 1241.5,976.3 1244.5,975.7 C1247.5,975.1 1250.2,975.2 1254.1,974.7 C1258,974.2 1263.9,973.1 1268,972.5 C1272.1,971.9 1273.4,971.5 1278.7,971.1 C1284,970.7 1291.5,970.4 1300,969.9 C1308.5,969.4 1322.5,968.5 1330,968 C1337.5,967.5 1340,967.7 1345,966.9 C1350,966.1 1355,964.2 1360,963.3 C1365,962.4 1368.3,961.8 1375,961.3 C1381.7,960.8 1390.8,960.5 1400,960.3 C1409.2,960 1418.2,959.9 1430,959.8 C1441.8,959.7 1463.8,959.6 1470.5,959.6"/>
<path fill="none" stroke="#6c7a00" stroke-width="2.9" stroke-linejoin="round" stroke-linecap="round" d="M1205,1206.3 C1206.2,1206.2 1210.6,1206.6 1212.4,1206 C1214.2,1205.4 1214.4,1203.9 1215.7,1202.9 C1217,1201.9 1218.2,1201.2 1220.4,1200.2 C1222.6,1199.2 1226.3,1197.9 1229.1,1196.9 C1231.9,1195.9 1235.4,1194.6 1237.2,1194 C1239,1193.4 1238.6,1194.2 1239.9,1193.5 C1241.2,1192.8 1243.4,1190.5 1245.2,1189.9 C1247,1189.4 1249,1190.7 1250.6,1190.2 C1252.2,1189.7 1253.1,1187.5 1254.6,1186.8 C1256,1186.1 1257.9,1187.7 1259.3,1186.2 C1260.7,1184.8 1261.6,1179.8 1262.7,1178.1 C1263.8,1176.4 1264.5,1178.5 1266,1176.1 C1267.5,1173.6 1270,1166 1271.4,1163.4 C1272.9,1160.8 1273,1163.2 1274.7,1160.7 C1276.4,1158.2 1279.8,1151.1 1281.4,1148.6 C1283,1146.1 1282.8,1148.8 1284.1,1145.9 C1285.4,1143 1288,1134.2 1289.5,1131.2 C1291,1128.2 1291.6,1129.6 1292.8,1127.8 C1294,1126 1295.9,1123 1296.9,1120.5 C1297.9,1118 1298,1114.9 1298.9,1113.1 C1299.8,1111.3 1300.8,1113 1302.2,1109.7 C1303.7,1106.5 1306.4,1096.6 1307.6,1093.6 C1308.8,1090.6 1308.1,1094.2 1309.6,1091.6 C1311,1089 1314.7,1080.9 1316.3,1078.2 C1317.9,1075.5 1317.4,1077.4 1319,1075.5 C1320.6,1073.6 1323.2,1069.5 1325.7,1066.8 C1328.2,1064.1 1330.5,1061.5 1333.7,1059.4 C1336.9,1057.3 1340.8,1055.4 1345,1054.1 C1349.2,1052.8 1351.8,1052.4 1358.7,1051.5 C1365.7,1050.6 1375.8,1049.6 1386.7,1048.9 C1397.6,1048.2 1410,1047.8 1424,1047.4 C1438,1047 1462.9,1046.7 1470.7,1046.6"/>
<g stroke="#000" stroke-width="2.5" stroke-linecap="round" fill="none">
<line x1="109.3" y1="342.6" x2="1482.4" y2="342.6"/>
<line x1="109.3" y1="342.6" x2="109.3" y2="360.2"/>
<line x1="224.6" y1="342.6" x2="224.6" y2="360.2"/>
<line x1="339.8" y1="342.6" x2="339.8" y2="360.2"/>
<line x1="453.8" y1="342.6" x2="453.8" y2="360.2"/>
<line x1="567.8" y1="342.6" x2="567.8" y2="360.2"/>
<line x1="683.1" y1="342.6" x2="683.1" y2="360.2"/>
<line x1="798.4" y1="342.6" x2="798.4" y2="360.2"/>
<line x1="911.1" y1="342.6" x2="911.1" y2="360.2"/>
<line x1="1025.1" y1="342.6" x2="1025.1" y2="360.2"/>
<line x1="1140.4" y1="342.6" x2="1140.4" y2="360.2"/>
<line x1="1255.6" y1="342.6" x2="1255.6" y2="360.2"/>
<line x1="1368.4" y1="342.6" x2="1368.4" y2="360.2"/>
<line x1="1482.4" y1="342.6" x2="1482.4" y2="360.2"/>
<line x1="109.3" y1="63.7" x2="109.3" y2="333.7"/>
<line x1="91.7" y1="333.7" x2="109.3" y2="333.7"/>
<line x1="91.7" y1="288.7" x2="109.3" y2="288.7"/>
<line x1="91.7" y1="243.7" x2="109.3" y2="243.7"/>
<line x1="91.7" y1="198.7" x2="109.3" y2="198.7"/>
<line x1="91.7" y1="153.7" x2="109.3" y2="153.7"/>
<line x1="91.7" y1="108.7" x2="109.3" y2="108.7"/>
<line x1="91.7" y1="63.7" x2="109.3" y2="63.7"/>
<line x1="109.3" y1="774.8" x2="1482.4" y2="774.8"/>
<line x1="109.3" y1="774.8" x2="109.3" y2="792.4"/>
<line x1="224.6" y1="774.8" x2="224.6" y2="792.4"/>
<line x1="339.8" y1="774.8" x2="339.8" y2="792.4"/>
<line x1="453.8" y1="774.8" x2="453.8" y2="792.4"/>
<line x1="567.8" y1="774.8" x2="567.8" y2="792.4"/>
<line x1="683.1" y1="774.8" x2="683.1" y2="792.4"/>
<line x1="798.4" y1="774.8" x2="798.4" y2="792.4"/>
<line x1="911.1" y1="774.8" x2="911.1" y2="792.4"/>
<line x1="1025.1" y1="774.8" x2="1025.1" y2="792.4"/>
<line x1="1140.4" y1="774.8" x2="1140.4" y2="792.4"/>
<line x1="1255.6" y1="774.8" x2="1255.6" y2="792.4"/>
<line x1="1368.4" y1="774.8" x2="1368.4" y2="792.4"/>
<line x1="1482.4" y1="774.8" x2="1482.4" y2="792.4"/>
<line x1="109.3" y1="511.2" x2="109.3" y2="774.8"/>
<line x1="91.7" y1="774.8" x2="109.3" y2="774.8"/>
<line x1="91.7" y1="708.9" x2="109.3" y2="708.9"/>
<line x1="91.7" y1="643" x2="109.3" y2="643"/>
<line x1="91.7" y1="577.1" x2="109.3" y2="577.1"/>
<line x1="91.7" y1="511.2" x2="109.3" y2="511.2"/>
<line x1="109.3" y1="1207.2" x2="1482.4" y2="1207.2"/>
<line x1="109.3" y1="1207.2" x2="109.3" y2="1224.8"/>
<line x1="224.6" y1="1207.2" x2="224.6" y2="1224.8"/>
<line x1="339.8" y1="1207.2" x2="339.8" y2="1224.8"/>
<line x1="453.8" y1="1207.2" x2="453.8" y2="1224.8"/>
<line x1="567.8" y1="1207.2" x2="567.8" y2="1224.8"/>
<line x1="683.1" y1="1207.2" x2="683.1" y2="1224.8"/>
<line x1="798.4" y1="1207.2" x2="798.4" y2="1224.8"/>
<line x1="911.1" y1="1207.2" x2="911.1" y2="1224.8"/>
<line x1="1025.1" y1="1207.2" x2="1025.1" y2="1224.8"/>
<line x1="1140.4" y1="1207.2" x2="1140.4" y2="1224.8"/>
<line x1="1255.6" y1="1207.2" x2="1255.6" y2="1224.8"/>
<line x1="1368.4" y1="1207.2" x2="1368.4" y2="1224.8"/>
<line x1="1482.4" y1="1207.2" x2="1482.4" y2="1224.8"/>
<line x1="109.3" y1="924.7" x2="109.3" y2="1207.2"/>
<line x1="91.7" y1="1207.2" x2="109.3" y2="1207.2"/>
<line x1="91.7" y1="1150.7" x2="109.3" y2="1150.7"/>
<line x1="91.7" y1="1094.2" x2="109.3" y2="1094.2"/>
<line x1="91.7" y1="1037.7" x2="109.3" y2="1037.7"/>
<line x1="91.7" y1="981.2" x2="109.3" y2="981.2"/>
<line x1="91.7" y1="924.7" x2="109.3" y2="924.7"/>
</g>
<g font-family='"Liberation Sans", sans-serif' font-size="28" fill="#000">
<text x="109.3" y="403.2" text-anchor="middle">Jul</text>
<text x="339.8" y="403.2" text-anchor="middle">Jan 2020</text>
<text x="567.8" y="403.2" text-anchor="middle">Jul</text>
<text x="798.4" y="403.2" text-anchor="middle">Jan 2021</text>
<text x="1025.1" y="403.2" text-anchor="middle">Jul</text>
<text x="1255.6" y="403.2" text-anchor="middle">Jan 2022</text>
<text x="1482.4" y="403.2" text-anchor="middle">Jul</text>
<text x="75.4" y="343.6" text-anchor="end">0</text>
<text x="75.4" y="298.6" text-anchor="end">5</text>
<text x="75.4" y="253.6" text-anchor="end">10</text>
<text x="75.4" y="208.6" text-anchor="end">15</text>
<text x="75.4" y="163.6" text-anchor="end">20</text>
<text x="75.4" y="118.6" text-anchor="end">25</text>
<text x="75.4" y="73.6" text-anchor="end">30</text>
<text x="109.3" y="835.5" text-anchor="middle">Jul</text>
<text x="339.8" y="835.5" text-anchor="middle">Jan 2020</text>
<text x="567.8" y="835.5" text-anchor="middle">Jul</text>
<text x="798.4" y="835.5" text-anchor="middle">Jan 2021</text>
<text x="1025.1" y="835.5" text-anchor="middle">Jul</text>
<text x="1255.6" y="835.5" text-anchor="middle">Jan 2022</text>
<text x="1482.4" y="835.5" text-anchor="middle">Jul</text>
<text x="75.4" y="784.7" text-anchor="end">1</text>
<text x="75.4" y="718.8" text-anchor="end">10</text>
<text x="75.4" y="652.9" text-anchor="end">100</text>
<text x="75.4" y="587" text-anchor="end">1000</text>
<text x="75.4" y="521.1" text-anchor="end">10000</text>
<text x="109.3" y="1267.8" text-anchor="middle">Jul</text>
<text x="339.8" y="1267.8" text-anchor="middle">Jan 2020</text>
<text x="567.8" y="1267.8" text-anchor="middle">Jul</text>
<text x="798.4" y="1267.8" text-anchor="middle">Jan 2021</text>
<text x="1025.1" y="1267.8" text-anchor="middle">Jul</text>
<text x="1255.6" y="1267.8" text-anchor="middle">Jan 2022</text>
<text x="1482.4" y="1267.8" text-anchor="middle">Jul</text>
<text x="75.4" y="1217.1" text-anchor="end">0</text>
<text x="75.4" y="1160.6" text-anchor="end">20</text>
<text x="75.4" y="1104.1" text-anchor="end">40</text>
<text x="75.4" y="1047.6" text-anchor="end">60</text>
<text x="75.4" y="991.1" text-anchor="end">80</text>
<text x="75.4" y="934.6" text-anchor="end">100</text>
</g>
<g font-family='"Liberation Sans", sans-serif' font-size="33.6" font-weight="bold" fill="#000" text-anchor="middle">
<text x="795.85" y="24.7">Arrivals (thousands per day)</text>
<text x="795.85" y="457.1">Cases and hospitalisations (per day)</text>
<text x="795.85" y="888.7">Vaccination coverage (%)</text>
</g>
<rect x="601" y="70.8" width="169" height="36.8" fill="#fff" stroke="#000" stroke-width="2" stroke-linejoin="round"/>
<text x="685.7" y="98.7" font-family='"Liberation Sans", sans-serif' font-size="25.6" text-anchor="middle" textLength="161.8" lengthAdjust="spacing">Closed border</text>
<rect x="909.7" y="56.7" width="166.8" height="65.1" fill="#fff" stroke="#000" stroke-width="2" stroke-linejoin="round"/>
<text x="992.5" y="83.4" font-family='"Liberation Sans", sans-serif' font-size="25.6" text-anchor="middle" textLength="160.3" lengthAdjust="spacing">Trans-Tasman</text>
<text x="992.6" y="113.3" font-family='"Liberation Sans", sans-serif' font-size="25.6" text-anchor="middle" textLength="78.7" lengthAdjust="spacing">bubble</text>
<rect x="749" y="489.7" width="136.3" height="37" fill="#fff" stroke="#000" stroke-width="2" stroke-linejoin="round"/>
<text x="817.5" y="517.6" font-family='"Liberation Sans", sans-serif' font-size="25.6" text-anchor="middle" textLength="129" lengthAdjust="spacing">Elimination</text>
<rect x="399.1" y="575.1" width="108.9" height="33.1" fill="#fff" stroke="#000" stroke-width="1.7" stroke-linejoin="round"/>
<text x="453.3" y="599.7" font-family='"Liberation Sans", sans-serif' font-size="22.4" text-anchor="middle" textLength="102.8" lengthAdjust="spacing">First wave</text>
<rect x="580.5" y="634.6" width="99.7" height="56.3" fill="#fff" stroke="#000" stroke-width="1.7" stroke-linejoin="round"/>
<text x="630.8" y="657" font-family='"Liberation Sans", sans-serif' font-size="22.4" text-anchor="middle">Auckland</text>
<text x="630.4" y="683.8" font-family='"Liberation Sans", sans-serif' font-size="22.4" text-anchor="middle" textLength="85.8" lengthAdjust="spacing">outbreak</text>
<rect x="1090.5" y="575.4" width="59.8" height="32.9" fill="#fff" stroke="#000" stroke-width="1.7" stroke-linejoin="round"/>
<text x="1120.7" y="599.9" font-family='"Liberation Sans", sans-serif' font-size="22.4" text-anchor="middle">Delta</text>
<rect x="1360.8" y="575.4" width="91" height="32.9" fill="#fff" stroke="#000" stroke-width="1.7" stroke-linejoin="round"/>
<text x="1406.5" y="599.9" font-family='"Liberation Sans", sans-serif' font-size="22.4" text-anchor="middle" textLength="85.5" lengthAdjust="spacing">Omicron</text>
<rect x="1228" y="727.2" width="149.7" height="36.2" fill="#fff" stroke="#000" stroke-width="2" stroke-linejoin="round"/>
<text x="1302.8" y="754" font-family='"Liberation Sans", sans-serif' font-size="25.6" text-anchor="middle" textLength="143.8" lengthAdjust="spacing">Suppression</text>
<text x="1482.3" y="940.4" font-family='"Liberation Sans", sans-serif' font-size="25.6" text-anchor="end" textLength="112.9" lengthAdjust="spacing">First dose</text>
<text x="1482.3" y="986.7" font-family='"Liberation Sans", sans-serif' font-size="25.6" text-anchor="end" textLength="151.9" lengthAdjust="spacing">Second dose</text>
<text x="1482.6" y="1037.3" font-family='"Liberation Sans", sans-serif' font-size="25.6" text-anchor="end" textLength="144.5" lengthAdjust="spacing">Booster shot</text>
</svg></body></html>
